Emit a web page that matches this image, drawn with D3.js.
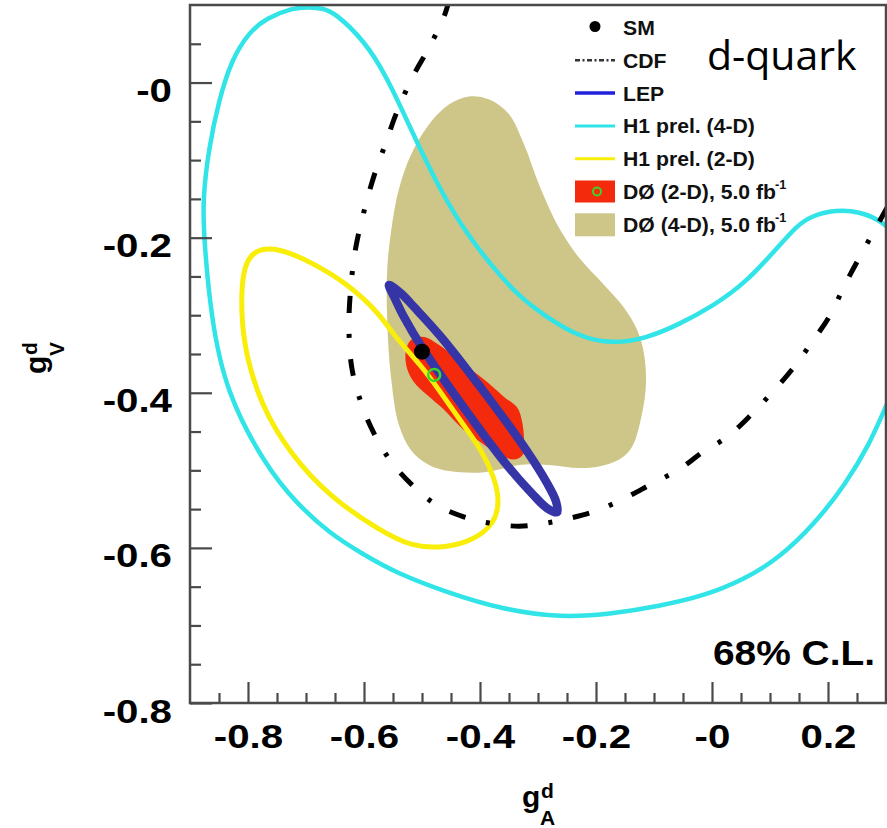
<!DOCTYPE html>
<html><head><meta charset="utf-8">
<script src="https://cdn.jsdelivr.net/npm/d3@7"></script>
<style>
html,body{margin:0;padding:0;background:#fff;}
svg{display:block;}
</style></head>
<body>
<svg id="chart" width="887" height="828"></svg>
<script>
// ---- axis ticks ----
const xMajorTicks = [-0.8, -0.6, -0.4, -0.2, 0, 0.2];
const xMajorLabels = ["-0.8", "-0.6", "-0.4", "-0.2", "-0", "0.2"];
const xMinorTicks = [-0.85, -0.75, -0.7, -0.65, -0.55, -0.5, -0.45, -0.35, -0.3, -0.25, -0.15, -0.1, -0.05, 0.05, 0.1, 0.15, 0.25];
const yMajorTicks = [0, -0.2, -0.4, -0.6, -0.8];
const yMajorLabels = ["-0", "-0.2", "-0.4", "-0.6", "-0.8"];
const yMinorTicks = [0.05, -0.05, -0.1, -0.15, -0.25, -0.3, -0.35, -0.45, -0.5, -0.55, -0.65, -0.7, -0.75];

// ---- 68% C.L. contours, points as [gA, gV] ----
const d0FourD = [[-0.419,-0.018],[-0.384,-0.022],[-0.350,-0.041],[-0.324,-0.080],[-0.298,-0.132],[-0.264,-0.187],
  [-0.229,-0.226],[-0.186,-0.261],[-0.152,-0.290],[-0.129,-0.319],[-0.117,-0.351],[-0.114,-0.390],[-0.121,-0.428],
  [-0.138,-0.470],[-0.160,-0.486],[-0.195,-0.495],[-0.229,-0.497],[-0.281,-0.493],[-0.333,-0.493],[-0.367,-0.499],
  [-0.402,-0.503],[-0.453,-0.501],[-0.488,-0.493],[-0.519,-0.474],[-0.540,-0.441],[-0.553,-0.383],[-0.560,-0.306],
  [-0.560,-0.241],[-0.553,-0.190],[-0.540,-0.138],[-0.519,-0.093],[-0.488,-0.054],[-0.453,-0.028]];

const d0TwoD = [[-0.519,-0.332],[-0.497,-0.328],[-0.471,-0.338],[-0.433,-0.360],[-0.393,-0.383],[-0.359,-0.405],
  [-0.336,-0.419],[-0.328,-0.435],[-0.324,-0.461],[-0.326,-0.480],[-0.341,-0.486],[-0.367,-0.480],[-0.393,-0.467],
  [-0.428,-0.448],[-0.462,-0.422],[-0.491,-0.403],[-0.514,-0.386],[-0.526,-0.368],[-0.528,-0.347]];

const h1TwoD = [[-0.747,-0.213],[-0.690,-0.232],[-0.631,-0.258],[-0.574,-0.297],[-0.552,-0.323],[-0.500,-0.366],
  [-0.471,-0.396],[-0.431,-0.439],[-0.397,-0.474],[-0.376,-0.508],[-0.366,-0.538],[-0.374,-0.568],[-0.410,-0.590],
  [-0.459,-0.600],[-0.517,-0.599],[-0.574,-0.577],[-0.660,-0.534],[-0.729,-0.477],[-0.776,-0.418],[-0.803,-0.354],
  [-0.812,-0.302],[-0.810,-0.240],[-0.790,-0.215]];

const h1FourD = [[-0.695,0.097],[-0.672,0.096],[-0.650,0.090],[-0.597,0.052],[-0.562,0.008],[-0.540,-0.026],
  [-0.505,-0.083],[-0.466,-0.142],[-0.424,-0.194],[-0.379,-0.237],[-0.333,-0.276],[-0.286,-0.302],[-0.229,-0.328],
  [-0.172,-0.337],[-0.114,-0.330],[-0.057,-0.312],[0.000,-0.289],[0.059,-0.258],[0.121,-0.206],[0.145,-0.186],
  [0.170,-0.172],[0.214,-0.164],[0.253,-0.166],[0.297,-0.179],[0.330,-0.210],[0.345,-0.280],[0.335,-0.360],
  [0.297,-0.422],[0.271,-0.467],[0.231,-0.517],[0.176,-0.570],[0.116,-0.613],[0.055,-0.641],[-0.014,-0.662],
  [-0.091,-0.675],[-0.172,-0.685],[-0.259,-0.690],[-0.359,-0.680],[-0.459,-0.657],[-0.545,-0.632],[-0.600,-0.609],
  [-0.660,-0.581],[-0.717,-0.542],[-0.769,-0.495],[-0.838,-0.400],[-0.864,-0.302],[-0.876,-0.200],[-0.878,-0.151],
  [-0.868,-0.086],[-0.850,-0.022],[-0.828,0.030],[-0.798,0.065],[-0.769,0.083],[-0.720,0.097]];

const lep = [[-0.557,-0.261],[-0.547,-0.278],[-0.532,-0.301],[-0.497,-0.345],[-0.428,-0.419],[-0.355,-0.492],
  [-0.309,-0.531],[-0.284,-0.549],[-0.267,-0.554],[-0.269,-0.540],[-0.284,-0.517],[-0.321,-0.473],[-0.392,-0.400],
  [-0.466,-0.329],[-0.513,-0.290],[-0.536,-0.272]];

const cdf = [[-0.453,0.107],[-0.462,0.085],[-0.488,0.045],[-0.517,0.006],[-0.545,-0.041],[-0.562,-0.077],
  [-0.583,-0.121],[-0.600,-0.166],[-0.614,-0.212],[-0.622,-0.258],[-0.626,-0.312],[-0.621,-0.368],[-0.605,-0.413],
  [-0.583,-0.452],[-0.553,-0.489],[-0.514,-0.521],[-0.474,-0.545],[-0.428,-0.560],[-0.384,-0.568],[-0.333,-0.572],
  [-0.286,-0.568],[-0.241,-0.561],[-0.195,-0.551],[-0.148,-0.535],[-0.103,-0.517],[-0.057,-0.499],[-0.017,-0.477],
  [0.026,-0.457],[0.064,-0.431],[0.103,-0.400],[0.138,-0.370],[0.172,-0.335],[0.202,-0.302],[0.231,-0.258],
  [0.259,-0.219],[0.305,-0.157]];

// Standard Model point and the DØ 2-D best fit
const smPoint = [-0.5, -0.347];
const d0BestFit = [-0.479, -0.377];

// ---- legend ----
const legendLabels = ["SM", "CDF", "LEP", "H1 prel. (4-D)", "H1 prel. (2-D)", "DØ (2-D), 5.0 fb", "DØ (4-D), 5.0 fb"];
const legendKinds = ["dot", "cdf", "lep", "h1-4d", "h1-2d", "d0-2d", "d0-4d"];

const C = {
  tan: "#cec688", red: "#f42a0c", cyan: "#30e4e8", yellow: "#f8ee0a",
  lep: "#3535a8", lepKey: "#2121dd", green: "#3ad62a", axis: "#4a4a4a"
};
const FONT = "'Liberation Sans', Arial, Helvetica, sans-serif";

const svg = d3.select("#chart");
svg.append("rect").attr("width", 887).attr("height", 828).attr("fill", "#fff");

const x = d3.scaleLinear().domain([-0.9, 0.3]).range([190, 886]);
const y = d3.scaleLinear().domain([-0.8, 0.1]).range([703, 5]);

svg.append("clipPath").attr("id", "plotclip")
  .append("rect").attr("x", x(-0.9)).attr("y", y(0.1))
  .attr("width", x(0.3) - x(-0.9)).attr("height", y(-0.8) - y(0.1));

const plot = svg.append("g").attr("clip-path", "url(#plotclip)");

const closed = d3.line().x(d => x(d[0])).y(d => y(d[1])).curve(d3.curveCatmullRomClosed.alpha(0.5));
const smooth = d3.line().x(d => x(d[0])).y(d => y(d[1])).curve(d3.curveBasisClosed);
const open = d3.line().x(d => x(d[0])).y(d => y(d[1])).curve(d3.curveCatmullRom.alpha(0.5));

plot.append("path").attr("d", closed(d0FourD)).attr("fill", C.tan);
plot.append("path").attr("d", closed(d0TwoD)).attr("fill", C.red);
plot.append("path").attr("d", smooth(h1TwoD)).attr("fill", "none").attr("stroke", C.yellow).attr("stroke-width", 5);
plot.append("path").attr("d", smooth(h1FourD)).attr("fill", "none").attr("stroke", C.cyan).attr("stroke-width", 4.5);
plot.append("path").attr("d", closed(lep)).attr("fill", "none").attr("stroke", C.lep).attr("stroke-width", 8.5);
plot.append("path").attr("d", open(cdf)).attr("fill", "none").attr("stroke", "#000")
  .attr("stroke-width", 5).attr("stroke-dasharray", "17,21,4,21");
plot.append("circle").attr("cx", x(d0BestFit[0])).attr("cy", y(d0BestFit[1])).attr("r", 6)
  .attr("fill", "none").attr("stroke", C.green).attr("stroke-width", 2.5);
plot.append("circle").attr("cx", x(smPoint[0])).attr("cy", y(smPoint[1])).attr("r", 8).attr("fill", "#000");

// ---- frame and axes ----
svg.append("rect").attr("x", x(-0.9)).attr("y", y(0.1))
  .attr("width", x(0.3) - x(-0.9)).attr("height", y(-0.8) - y(0.1))
  .attr("fill", "none").attr("stroke", C.axis).attr("stroke-width", 2.5);

function styleAxis(g) {
  g.select(".domain").remove();
  g.selectAll(".tick line").attr("stroke", C.axis).attr("stroke-width", 2.2);
}

const xAxisG = svg.append("g").attr("transform", `translate(0,${y(-0.8)})`);
xAxisG.append("g").call(d3.axisBottom(x).tickValues(xMinorTicks).tickSize(-10).tickFormat("")).call(styleAxis);
xAxisG.append("g").call(d3.axisBottom(x).tickValues(xMajorTicks).tickSize(-21)
  .tickFormat((d, i) => xMajorLabels[i])).call(styleAxis)
  .call(g => g.selectAll(".tick text")
    .attr("y", null).attr("dy", null).attr("x", 0)
    .attr("transform", "translate(0,45) scale(1.22,1)")
    .attr("font-family", FONT).attr("font-weight", "bold").attr("font-size", 33).attr("fill", "#000"));

const yAxisG = svg.append("g").attr("transform", `translate(${x(-0.9)},0)`);
yAxisG.append("g").call(d3.axisLeft(y).tickValues(yMinorTicks).tickSize(-11).tickFormat("")).call(styleAxis);
yAxisG.append("g").call(d3.axisLeft(y).tickValues(yMajorTicks).tickSize(-22)
  .tickFormat((d, i) => yMajorLabels[i])).call(styleAxis)
  .call(g => g.selectAll(".tick text")
    .attr("x", 0).attr("dy", null)
    .attr("transform", "translate(-18,19) scale(1.22,1)")
    .attr("text-anchor", "end")
    .attr("font-family", FONT).attr("font-weight", "bold").attr("font-size", 33).attr("fill", "#000"));

// axis titles g_A^d and g_V^d
function axisTitle(sub, transform) {
  const g = svg.append("g").attr("transform", transform)
    .attr("font-family", FONT).attr("font-weight", "bold").attr("fill", "#000");
  g.append("text").attr("x", 0).attr("y", 0).attr("font-size", 30).text("g");
  g.append("text").attr("x", 19).attr("y", -9).attr("font-size", 21).text("d");
  g.append("text").attr("x", 18).attr("y", 18).attr("font-size", 21).text(sub);
}
axisTitle("A", "translate(522,807)");
axisTitle("V", "translate(46,374) rotate(-90)");

// ---- legend ----
const leg = svg.append("g");
const rowY = i => 27.5 + i * 32.8;
legendKinds.forEach((k, i) => {
  const cy = rowY(i);
  if (k === "dot") {
    leg.append("circle").attr("cx", 595).attr("cy", cy - 1).attr("r", 5.5).attr("fill", "#000");
  } else if (k === "cdf") {
    leg.append("line").attr("x1", 575).attr("x2", 615).attr("y1", cy).attr("y2", cy)
      .attr("stroke", "#333").attr("stroke-width", 2.5).attr("stroke-dasharray", "5,2.5,2,2.5");
  } else if (k === "lep") {
    leg.append("line").attr("x1", 575).attr("x2", 615).attr("y1", cy).attr("y2", cy)
      .attr("stroke", C.lepKey).attr("stroke-width", 3.5);
  } else if (k === "h1-4d") {
    leg.append("line").attr("x1", 575).attr("x2", 615).attr("y1", cy).attr("y2", cy)
      .attr("stroke", C.cyan).attr("stroke-width", 3);
  } else if (k === "h1-2d") {
    leg.append("line").attr("x1", 575).attr("x2", 615).attr("y1", cy).attr("y2", cy)
      .attr("stroke", C.yellow).attr("stroke-width", 3);
  } else if (k === "d0-2d") {
    leg.append("rect").attr("x", 575).attr("y", cy - 11).attr("width", 40).attr("height", 22).attr("fill", C.red);
    leg.append("circle").attr("cx", 597).attr("cy", cy).attr("r", 4).attr("fill", "none")
      .attr("stroke", C.green).attr("stroke-width", 2);
  } else if (k === "d0-4d") {
    leg.append("rect").attr("x", 575).attr("y", cy - 11).attr("width", 40).attr("height", 23).attr("fill", C.tan);
  }
  const t = leg.append("text")
    .attr("transform", `translate(623,${cy + 7.5}) scale(1.06,1)`)
    .attr("font-family", FONT).attr("font-weight", "bold").attr("font-size", 20).attr("fill", "#111")
    .text(legendLabels[i]);
  if (k === "d0-2d" || k === "d0-4d") {
    t.append("tspan").attr("font-size", 12).attr("dy", -10).attr("dx", -1).text("-1");
  }
});

// ---- annotations ----
svg.append("text").attr("x", 707).attr("y", 70)
  .attr("font-family", "'Open Sans', 'Noto Sans', sans-serif").attr("font-size", 41).attr("fill", "#000")
  .text("d-quark");
svg.append("text").attr("transform", "translate(875,665) scale(1.08,1)").attr("text-anchor", "end")
  .attr("font-family", FONT).attr("font-weight", "bold").attr("font-size", 36).attr("fill", "#000")
  .text("68% C.L.");
</script>
</body></html>
